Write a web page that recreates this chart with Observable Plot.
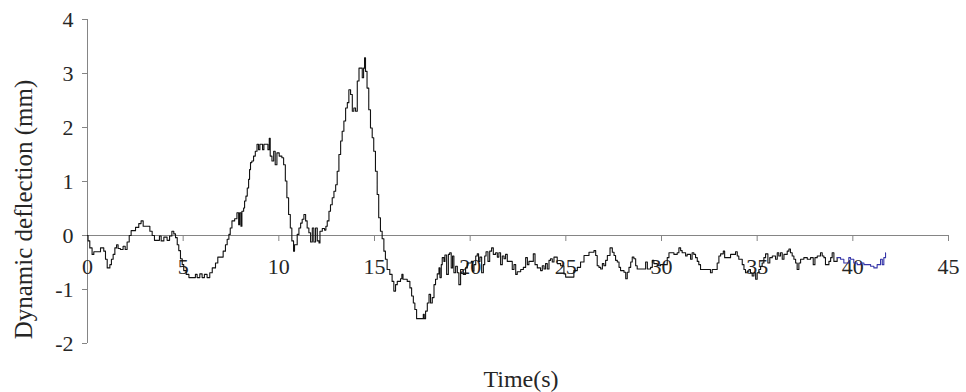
<!DOCTYPE html>
<html>
<head>
<meta charset="utf-8">
<script src="https://cdn.jsdelivr.net/npm/d3@7"></script>
<script src="https://cdn.jsdelivr.net/npm/@observablehq/plot@0.6"></script>
<style>
  html, body { margin: 0; padding: 0; background: #fff; }
</style>
</head>
<body>
<div id="chart"></div>
<script>
// Dynamic deflection record: sample times (s) and deflection (mm), held between samples.
const time = [
  0, 0.03, 0.12, 0.24, 0.33, 0.68, 0.85, 0.94, 1.03, 1.17,
  1.25, 1.34, 1.43, 1.52, 1.6, 1.72, 1.86, 1.97, 2.07, 2.18,
  2.28, 2.51, 2.68, 2.8, 2.91, 3.26, 3.38, 3.5, 3.76, 3.85,
  3.99, 4.16, 4.29, 4.41, 4.51, 4.6, 4.69, 4.77, 4.86, 4.95,
  5.03, 5.16, 5.3, 5.64, 5.73, 5.87, 5.99, 6.11, 6.25, 6.39,
  6.52, 6.69, 6.81, 7.09, 7.21, 7.3, 7.39, 7.46, 7.55, 7.69,
  7.81, 7.9, 7.95, 8.02, 8.07, 8.16, 8.21, 8.28, 8.35, 8.42,
  8.47, 8.52, 8.59, 8.68, 8.77, 8.86, 8.94, 9.01, 9.15, 9.22,
  9.43, 9.5, 9.55, 9.64, 9.73, 9.81, 9.9, 10.02, 10.16, 10.25,
  10.34, 10.42, 10.51, 10.6, 10.68, 10.77, 10.82, 10.96, 11.05, 11.14,
  11.22, 11.31, 11.4, 11.48, 11.57, 11.66, 11.75, 11.83, 11.92, 12.01,
  12.1, 12.15, 12.27, 12.39, 12.46, 12.53, 12.62, 12.7, 12.79, 12.88,
  12.97, 13.05, 13.14, 13.23, 13.31, 13.4, 13.49, 13.58, 13.66, 13.75,
  13.84, 13.92, 14.01, 14.1, 14.19, 14.36, 14.43, 14.48, 14.53, 14.61,
  14.7, 14.79, 14.88, 14.96, 15.05, 15.14, 15.22, 15.31, 15.4, 15.49,
  15.57, 15.66, 15.8, 15.92, 16.01, 16.1, 16.19, 16.36, 16.43, 16.49,
  16.71, 16.85, 16.94, 17.03, 17.11, 17.2, 17.55, 17.6, 17.67, 17.76,
  17.85, 17.93, 18.02, 18.11, 18.19, 18.28, 18.37, 18.42, 18.49, 18.54,
  18.63, 18.68, 18.77, 18.86, 18.93, 19.01, 19.08, 19.15, 19.24, 19.33,
  19.41, 19.5, 19.64, 19.76, 19.85, 20.06, 20.13, 20.2, 20.29, 20.37,
  20.44, 20.51, 20.6, 20.69, 20.76, 20.83, 20.93, 21.02, 21.12, 21.21,
  21.33, 21.42, 21.5, 21.59, 21.68, 21.77, 21.85, 21.94, 22.2, 22.29,
  22.38, 22.46, 22.64, 22.78, 22.9, 22.99, 23.07, 23.3, 23.39, 23.51,
  23.68, 23.77, 23.86, 23.94, 24.03, 24.12, 24.2, 24.29, 24.38, 24.55,
  24.73, 24.9, 24.99, 25.42, 25.6, 25.77, 25.95, 26.21, 26.47, 26.56,
  26.64, 26.73, 26.82, 26.91, 26.99, 27.08, 27.17, 27.31, 27.43, 27.52,
  27.6, 27.69, 27.78, 27.86, 28.04, 28.13, 28.21, 28.3, 28.39, 28.47,
  28.56, 28.65, 28.73, 29.17, 29.26, 29.43, 29.52, 29.6, 29.78, 29.95,
  30.3, 30.39, 30.65, 30.82, 30.91, 31.0, 31.08, 31.26, 31.34, 31.52,
  31.6, 31.69, 31.78, 31.87, 31.95, 32.04, 32.56, 32.65, 32.91, 33.0,
  33.09, 33.23, 33.3, 33.61, 33.87, 33.96, 34.04, 34.22, 34.31, 34.39,
  34.48, 34.57, 34.65, 34.74, 34.83, 34.92, 35.0, 35.09, 35.18, 35.26,
  35.35, 35.44, 35.56, 35.66, 35.79, 35.96, 36.05, 36.13, 36.22, 36.31,
  36.4, 36.57, 36.66, 36.74, 36.83, 36.92, 37.01, 37.09, 37.18, 37.27,
  37.44, 37.62, 37.79, 37.93, 38.02, 38.14, 38.31, 38.4, 38.49, 38.57,
  38.75, 38.84, 38.92, 39.01, 39.18, 39.36, 39.53, 39.79, 39.88, 40.05,
  40.23, 40.4, 40.58, 40.93, 41.1, 41.27, 41.45, 41.54, 41.62, 41.71
];

const deflection = [
  0, -0.1, -0.23, -0.35, -0.3, -0.23, -0.29, -0.44, -0.6, -0.54,
  -0.44, -0.35, -0.23, -0.17, -0.24, -0.26, -0.2, -0.26, -0.12, 0,
  0.09, 0.15, 0.22, 0.27, 0.17, 0.08, 0, -0.09, -0.01, -0.1,
  -0.03, -0.09, -0.01, 0.08, 0.03, -0.04, -0.17, -0.28, -0.43, -0.54,
  -0.65, -0.72, -0.78, -0.72, -0.78, -0.71, -0.78, -0.72, -0.78, -0.69,
  -0.6, -0.51, -0.4, -0.29, -0.17, -0.07, 0.02, 0.14, 0.27, 0.31,
  0.42, 0.2, 0.42, 0.17, 0.45, 0.51, 0.64, 0.73, 0.88, 1.04,
  1.22, 1.35, 1.38, 1.47, 1.56, 1.69, 1.59, 1.69, 1.59, 1.69,
  1.59, 1.8, 1.47, 1.38, 1.56, 1.31, 1.53, 1.47, 1.44, 1.31,
  1.01, 0.7, 0.39, 0.14, -0.1, -0.29, -0.17, 0.02, 0.14, 0.23,
  0.3, 0.39, 0.27, 0.14, 0.05, -0.12, 0.14, -0.12, 0.14, -0.1,
  -0.14, 0.08, 0.13, 0.1, 0.17, 0.27, 0.45, 0.57, 0.7, 0.82,
  0.94, 1.19, 1.5, 1.75, 1.93, 2.12, 2.36, 2.46, 2.7, 2.61,
  2.3, 2.36, 2.3, 2.86, 3.1, 2.92, 3.1, 3.29, 3.04, 2.73,
  2.33, 1.99, 1.81, 1.56, 1.19, 0.76, 0.33, 0.08, -0.06, -0.29,
  -0.44, -0.63, -0.72, -0.85, -1.03, -0.91, -0.85, -0.8, -0.72, -0.81,
  -0.85, -0.97, -1.12, -1.25, -1.37, -1.54, -1.46, -1.54, -1.4, -1.25,
  -1.09, -1.25, -1.15, -0.91, -0.81, -0.71, -0.6, -0.78, -0.54, -0.41,
  -0.48, -0.36, -0.72, -0.35, -0.32, -0.6, -0.38, -0.69, -0.57, -0.69,
  -0.91, -0.63, -0.72, -0.6, -0.51, -0.48, -0.66, -0.54, -0.38, -0.34,
  -0.48, -0.4, -0.69, -0.54, -0.38, -0.3, -0.48, -0.29, -0.23, -0.35,
  -0.32, -0.4, -0.32, -0.54, -0.38, -0.43, -0.35, -0.48, -0.63, -0.54,
  -0.72, -0.67, -0.63, -0.59, -0.41, -0.54, -0.48, -0.34, -0.54, -0.6,
  -0.65, -0.56, -0.62, -0.52, -0.62, -0.46, -0.43, -0.49, -0.4, -0.52,
  -0.56, -0.71, -0.77, -0.65, -0.59, -0.49, -0.37, -0.31, -0.28, -0.37,
  -0.56, -0.59, -0.62, -0.52, -0.56, -0.46, -0.37, -0.23, -0.31, -0.37,
  -0.46, -0.49, -0.59, -0.65, -0.68, -0.8, -0.68, -0.59, -0.49, -0.4,
  -0.43, -0.56, -0.62, -0.49, -0.62, -0.59, -0.46, -0.52, -0.56, -0.54,
  -0.41, -0.32, -0.35, -0.32, -0.23, -0.28, -0.32, -0.38, -0.35, -0.44,
  -0.32, -0.35, -0.41, -0.48, -0.54, -0.63, -0.69, -0.63, -0.51, -0.38,
  -0.34, -0.29, -0.41, -0.35, -0.3, -0.38, -0.44, -0.54, -0.63, -0.69,
  -0.66, -0.63, -0.69, -0.75, -0.69, -0.81, -0.69, -0.63, -0.57, -0.51,
  -0.41, -0.34, -0.51, -0.41, -0.38, -0.44, -0.32, -0.38, -0.32, -0.44,
  -0.35, -0.29, -0.25, -0.32, -0.38, -0.44, -0.51, -0.63, -0.51, -0.44,
  -0.41, -0.44, -0.41, -0.54, -0.41, -0.38, -0.32, -0.38, -0.41, -0.54,
  -0.48, -0.41, -0.32, -0.48, -0.41, -0.44, -0.51, -0.41, -0.44, -0.51,
  -0.54, -0.51, -0.54, -0.57, -0.6, -0.54, -0.44, -0.54, -0.41, -0.32
];

// The tail of the record (from this time on) is drawn in blue.
const blueFrom = 39.18;

const xTicks = [0, 5, 10, 15, 20, 25, 30, 35, 40, 45];
const yTicks = [-2, -1, 0, 1, 2, 3, 4];
const xTitle = "Time(s)";
const yTitle = "Dynamic deflection (mm)";

const rows = time.map((t, i) => ({t, v: deflection[i]}));
const axisGray = "#858585";
const textColor = "#262626";
const serif = "'Liberation Serif', 'Times New Roman', serif";
// plain hyphen for negatives, no decimals
const fmt = (d) => String(d);

const chart = Plot.plot({
  width: 966,
  height: 392,
  marginTop: 19,
  marginRight: 18,
  marginBottom: 49,
  marginLeft: 87,
  style: {fontFamily: serif, background: "#fff", color: textColor, overflow: "visible"},
  x: {domain: [0, 45], axis: null},
  y: {domain: [-2, 4], axis: null},
  marks: [
    // axis lines: vertical at t = 0, horizontal at zero deflection
    Plot.ruleX([0], {stroke: axisGray, strokeWidth: 1}),
    Plot.ruleY([0], {stroke: axisGray, strokeWidth: 1}),
    // y axis ticks and labels
    Plot.axisY(yTicks, {
      anchor: "left", tickSize: 5, tickPadding: 9, fontSize: 22, fontFamily: serif,
      tickFormat: fmt, stroke: axisGray, fill: textColor, label: null
    }),
    // x ticks hang below the zero line, labels under them
    Plot.ruleX(xTicks, {x: (d) => d, y1: 0, y2: 0, insetTop: 6, stroke: axisGray}),
    Plot.text(xTicks, {
      x: (d) => d, y: 0, text: fmt, dy: 31, fontSize: 22, fontFamily: serif, fill: textColor
    }),
    // deflection trace
    Plot.line(rows.filter((d) => d.t <= blueFrom), {
      x: "t", y: "v", curve: "step-after", stroke: "#111", strokeWidth: 1.1
    }),
    Plot.line(rows.filter((d) => d.t >= blueFrom), {
      x: "t", y: "v", curve: "step-after", stroke: "#3535a8", strokeWidth: 1.1
    }),
    // axis titles
    Plot.text([yTitle], {
      frameAnchor: "left", textAnchor: "middle", lineAnchor: "middle", rotate: -90,
      dx: -64, dy: 28, fontSize: 25, fontFamily: serif, fill: textColor
    }),
    Plot.text([xTitle], {
      frameAnchor: "bottom", textAnchor: "middle", lineAnchor: "middle",
      dx: 3, dy: 36, fontSize: 24, fontFamily: serif, fill: textColor
    })
  ]
});

document.getElementById("chart").append(chart);
</script>
</body>
</html>
